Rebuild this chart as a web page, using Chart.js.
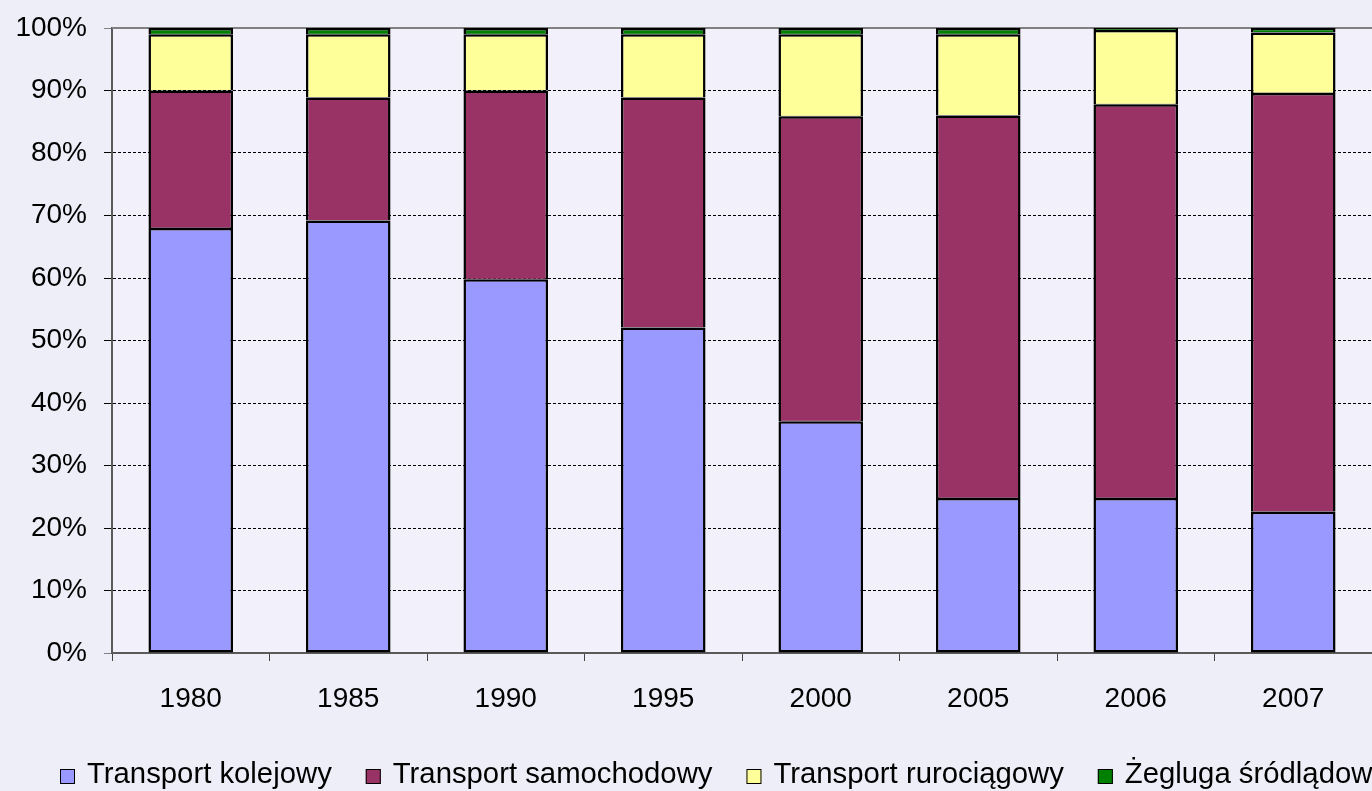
<!DOCTYPE html>
<html>
<head>
<meta charset="utf-8">
<script src="https://cdn.jsdelivr.net/npm/chart.js@4.4.1/dist/chart.umd.min.js"></script>
<style>
  html, body { margin: 0; padding: 0; background: #EEEEF8; overflow: hidden; }
  canvas { display: block; }
</style>
</head>
<body>
<canvas id="chart" width="1372" height="791"></canvas>
<script>
// Struktura przewozów ładunków według rodzajów transportu (%)
const categories = ['1980', '1985', '1990', '1995', '2000', '2005', '2006', '2007'];
const kolejowy    = [68.0, 69.2, 59.8, 52.1, 37.1, 24.8, 24.8, 22.6];
const samochodowy = [22.0, 19.7, 30.2, 36.8, 48.8, 61.2, 63.0, 67.0];
const rurociagowy = [ 9.0, 10.1,  9.0, 10.1, 13.1, 13.0, 11.9,  9.7];
const zegluga     = [ 1.0,  1.0,  1.0,  1.0,  1.0,  1.0,  0.3,  0.7];
const seriesLabels = ['Transport kolejowy', 'Transport samochodowy', 'Transport rurociągowy', 'Żegluga śródlądowa'];
const yTicks = [0, 10, 20, 30, 40, 50, 60, 70, 80, 90, 100];

const FONT = '"Liberation Sans", Arial, sans-serif';
const seriesColors = ['#9999FF', '#993366', '#FFFF99', '#008000'];
const seriesValues = [kolejowy, samochodowy, rurociagowy, zegluga];

const datasets = seriesValues.map((vals, i) => ({
  label: seriesLabels[i],
  data: vals,
  backgroundColor: seriesColors[i],
  borderColor: '#000000',
  borderWidth: { top: 2.5, left: 2.5, right: 2.5, bottom: i === 0 ? 2.5 : 0.5 },
  borderSkipped: false,
  inflateAmount: 0,
  barPercentage: 0.537,
  categoryPercentage: 1.0
}));

// page and plot-area background
const backgroundPlugin = {
  id: 'backgroundPlugin',
  beforeDraw(chart) {
    const { ctx, chartArea: a } = chart;
    ctx.save();
    ctx.fillStyle = '#EEEEF8';
    ctx.fillRect(0, 0, chart.width, chart.height);
    ctx.fillStyle = '#F2F1FB';
    ctx.fillRect(a.left, a.top, a.right - a.left, a.bottom - a.top);
    ctx.restore();
  }
};

// solid grey frame line at the 100% level
const topLinePlugin = {
  id: 'topLinePlugin',
  beforeDatasetsDraw(chart) {
    const { ctx, chartArea: a, scales } = chart;
    const y = scales.y.getPixelForValue(100);
    ctx.save();
    ctx.strokeStyle = '#808080';
    ctx.lineWidth = 2;
    ctx.beginPath();
    ctx.moveTo(a.left, y);
    ctx.lineTo(a.right, y);
    ctx.stroke();
    ctx.restore();
  }
};

// legend row along the bottom edge
const bottomLegendPlugin = {
  id: 'bottomLegendPlugin',
  afterDraw(chart) {
    const ctx = chart.ctx;
    ctx.save();
    ctx.font = '29.3px ' + FONT;
    ctx.textBaseline = 'alphabetic';
    ctx.textAlign = 'left';
    let x = 60;
    const boxTop = 769, box = 15, baseline = 783;
    chart.data.datasets.forEach(ds => {
      ctx.fillStyle = ds.backgroundColor;
      ctx.fillRect(x, boxTop, box, box);
      ctx.strokeStyle = '#000000';
      ctx.lineWidth = 1;
      ctx.strokeRect(x + 0.5, boxTop + 0.5, box - 1, box - 1);
      ctx.fillStyle = '#000000';
      ctx.fillText(ds.label, x + 27, baseline);
      x += 27 + ctx.measureText(ds.label).width + 34;
    });
    ctx.restore();
  }
};

new Chart(document.getElementById('chart'), {
  type: 'bar',
  data: { labels: categories, datasets },
  options: {
    responsive: false,
    animation: false,
    layout: { padding: { top: 28, right: 0, bottom: 0, left: 0 } },
    plugins: {
      legend: { display: false },
      tooltip: { enabled: false }
    },
    scales: {
      x: {
        stacked: true,
        offset: true,
        grid: {
          offset: true,
          drawOnChartArea: false,
          drawTicks: true,
          tickLength: 8,
          tickColor: '#444444',
          tickWidth: 1
        },
        border: { display: true, color: '#5A5A5A', width: 2 },
        ticks: {
          color: '#000000',
          font: { family: FONT, size: 28 },
          padding: 21,
          maxRotation: 0,
          autoSkip: false
        },
        afterFit(scale) {
          scale.height = 138;
          scale.paddingLeft = 0;
          scale.paddingRight = 0;
        }
      },
      y: {
        stacked: true,
        min: 0,
        max: 100,
        afterBuildTicks(scale) { scale.ticks = yTicks.map(v => ({ value: v })); },
        ticks: {
          color: '#000000',
          font: { family: FONT, size: 28 },
          padding: 17,
          callback: v => v + '%'
        },
        grid: {
          color: c => (c.tick && (c.tick.value === 0 || c.tick.value === 100)) ? 'rgba(0,0,0,0)' : '#000000',
          lineWidth: 1,
          drawTicks: true,
          tickLength: 8,
          tickColor: c => (c.tick && (c.tick.value === 0 || c.tick.value === 100)) ? '#808080' : '#000000',
          tickWidth: 1
        },
        border: { display: true, color: '#5A5A5A', width: 2, dash: [3, 2] },
        afterFit(scale) {
          scale.width = 112;
          scale.paddingTop = 0;
          scale.paddingBottom = 0;
        }
      }
    }
  },
  plugins: [backgroundPlugin, topLinePlugin, bottomLegendPlugin]
});
</script>
</body>
</html>
